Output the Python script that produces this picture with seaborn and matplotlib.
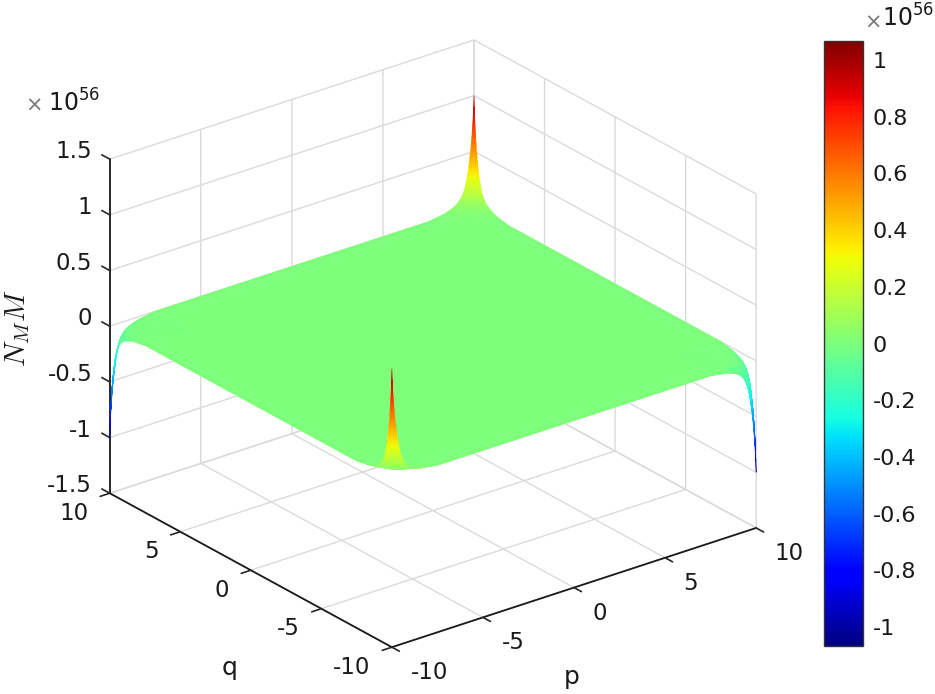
import numpy as np
import matplotlib
matplotlib.use("Agg")
import matplotlib.pyplot as plt
import seaborn as sns

# distance from the edge of the plate, and the height of a corner spike along that edge (x 1e56)
edge_offsets = [0, 0.02, 0.04, 0.07, 0.1, 0.14, 0.2, 0.26, 0.33, 0.42, 0.55, 0.7, 0.9, 1.2, 1.6, 2.5]
edge_heights = [1.0, 0.9, 0.84, 0.75, 0.68, 0.6, 0.5, 0.42, 0.33, 0.25, 0.17, 0.12, 0.08, 0.05, 0.025, 0]

# tip of each spike
peak_low_low = 1.0
peak_high_high = 1.0
peak_low_high = -1.0
peak_high_low = -1.0

axis_ticks = [-10, -5, 0, 5, 10]
axis_labels = ["-10", "-5", "0", "5", "10"]
z_ticks = [-1.5, -1, -0.5, 0, 0.5, 1, 1.5]
z_labels = ["-1.5", "-1", "-0.5", "0", "0.5", "1", "1.5"]
cbar_ticks = [-1, -0.8, -0.6, -0.4, -0.2, 0, 0.2, 0.4, 0.6, 0.8, 1]
cbar_labels = ["-1", "-0.8", "-0.6", "-0.4", "-0.2", "0", "0.2", "0.4", "0.6", "0.8", "1"]
color_limit = 1.067

sns.set_theme(style="white")
plt.rcParams["font.family"] = ["DejaVu Sans"]
jet = matplotlib.colormaps["jet"]
norm = plt.Normalize(-color_limit, color_limit)

off = np.array(edge_offsets)
h = np.array(edge_heights)
corner = np.outer(h, h)
grid = np.concatenate([-10 + off, 10 - off[::-1]])
P, Q = np.meshgrid(grid, grid)
Z = np.block([
    [peak_low_low * corner, peak_high_low * corner[:, ::-1]],
    [peak_low_high * corner[::-1, :], peak_high_high * corner[::-1, ::-1]],
])
# colour of a facet = mean height of its four corners
face_z = (Z[:-1, :-1] + Z[1:, :-1] + Z[:-1, 1:] + Z[1:, 1:]) / 4

W, H = 935, 694
dark = "#1a1a1a"
fig = plt.figure(figsize=(W / 100, H / 100), dpi=100)
side = 588
ax = fig.add_axes([131 / W, (H - 351.5 - side / 2) / H, side / W, side / H],
                  projection="3d", proj_type="ortho")
ax.set_box_aspect((1, 1, 0.8), zoom=1.236)
ax.view_init(elev=25, azim=-127.76)
ax.patch.set_alpha(0)

surf = ax.plot_surface(P, Q, Z, rstride=1, cstride=1, facecolors=jet(norm(face_z)),
                       linewidth=0.4, antialiased=True, shade=False)
surf.set_clip_on(False)  # box is wider than the square axes

ax.set_xlim(-10, 10, view_margin=0)
ax.set_ylim(-10, 10, view_margin=0)
ax.set_zlim(-1.5, 1.5, view_margin=0)
ax.set_xticks(axis_ticks, axis_labels, fontsize=16.5, color=dark, ha="left", va="baseline")
ax.set_yticks(axis_ticks, axis_labels, fontsize=16.5, color=dark, ha="right", va="baseline")
ax.set_zticks(z_ticks, z_labels, fontsize=16.5, color=dark, ha="right", va="baseline")

for axis in (ax.xaxis, ax.yaxis, ax.zaxis):
    axis.pane.set_facecolor("white")
    axis.pane.set_edgecolor("white")
    axis.line.set_color(dark)
    axis.line.set_linewidth(1.3)
    axis._axinfo["grid"].update(color="#dadada", linewidth=1.0)
# p and q ticks stick out of the box, z ticks run along the q direction
ax.xaxis._axinfo["tick"].update(inward_factor=0.33, outward_factor=0.0, color=dark,
                                linewidth={True: 1.2, False: 0.5})
ax.yaxis._axinfo["tick"].update(inward_factor=0.33, outward_factor=0.0, color=dark,
                                linewidth={True: 1.2, False: 0.5})
ax.zaxis._axinfo["tick"].update(inward_factor=0.0, outward_factor=0.35, color=dark,
                                linewidth={True: 1.2, False: 0.5})
ax.zaxis._get_tickdir = lambda position: 1
ax.tick_params(axis="x", pad=6.5)
ax.tick_params(axis="y", pad=5)
ax.tick_params(axis="z", pad=-2)

fig.text(230 / W, 1 - 668 / H, "q", fontsize=18, ha="center", va="center", color=dark)
fig.text(572 / W, 1 - 677 / H, "p", fontsize=18, ha="center", va="center", color=dark)
fig.text(18 / W, 1 - 328 / H, "$N_M M$", fontsize=21, rotation=90, ha="center", va="center",
         math_fontfamily="cm", color=dark)
fig.text(34 / W, 1 - 106 / H, "×", fontsize=15, ha="center", va="center", color="#777777")
fig.text(48 / W, 1 - 112 / H, "$10^{56}$", fontsize=17, ha="left", va="baseline",
         math_fontfamily="dejavusans", color=dark)
fig.text(873 / W, 1 - 23 / H, "×", fontsize=15, ha="center", va="center", color="#777777")
fig.text(882 / W, 1 - 27 / H, "$10^{56}$", fontsize=17, ha="left", va="baseline",
         math_fontfamily="dejavusans", color=dark)

cax = fig.add_axes([824 / W, 1 - 646 / H, 39 / W, 605 / H])
mappable = plt.cm.ScalarMappable(norm, jet)
cbar = fig.colorbar(mappable, cax=cax)
cbar.set_ticks(cbar_ticks, labels=cbar_labels)
cax.tick_params(axis="y", direction="in", length=4.3, width=1, color=dark,
                labelsize=16, labelcolor=dark, pad=7, right=True)
cbar.outline.set_edgecolor("#333333")
cbar.outline.set_linewidth(1)

fig.savefig("out.png", dpi=100)
